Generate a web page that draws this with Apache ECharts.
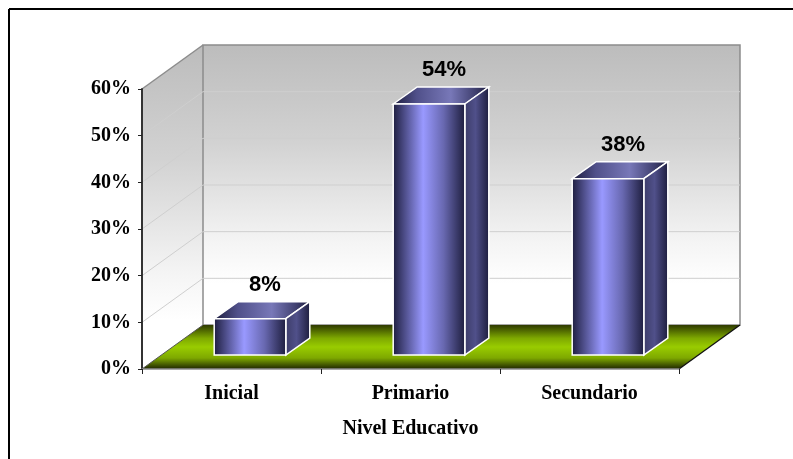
<!DOCTYPE html>
<html><head><meta charset="utf-8">
<style>html,body{margin:0;padding:0;background:#fff}#c{width:793px;height:459px}</style>
<script src="https://cdn.jsdelivr.net/npm/echarts@6/dist/echarts.min.js"></script>
</head><body><div id="c"></div>
<script>
var categories = ['Inicial', 'Primario', 'Secundario'];
var values = [0.08, 0.54, 0.38];
var labels = ['8%', '54%', '38%'];
var yTicks = [0, 0.1, 0.2, 0.3, 0.4, 0.5, 0.6];
var xAxisTitle = 'Nivel Educativo';

var DX = 61, DY = -44;            // room depth
var FX = 18.5, FY = -14;          // bar front face offset
var BX = 24, BY = -17;            // bar depth
var BAR = 0.4;

function pts(a) { return { points: a }; }
function vg(stops) { return { type: 'linear', x: 0, y: 0, x2: 0, y2: 1, colorStops: stops }; }
function hg(stops) { return { type: 'linear', x: 0, y: 0, x2: 1, y2: 0, colorStops: stops }; }
var wallFill = [{offset:0,color:'#bcbcbc'},{offset:0.35,color:'#d2d2d2'},{offset:0.7,color:'#f4f4f4'},{offset:0.85,color:'#ffffff'},{offset:1,color:'#ffffff'}];

function renderRoom(params, api) {
  var x0 = params.coordSys.x, w = params.coordSys.width;
  var yb = api.coord([0, 0])[1], yt = api.coord([0, 0.6])[1];
  var x1 = x0 + w, c = [];
  c.push({type:'polygon', shape:pts([[x0,yb],[x0+DX,yb+DY],[x0+DX,yt+DY],[x0,yt]]),
    style:{fill:vg(wallFill), stroke:null}});
  c.push({type:'rect', shape:{x:x0+DX,y:yt+DY,width:w,height:yb-yt},
    style:{fill:vg(wallFill), stroke:'#8c8c8c', lineWidth:1.5}});
  yTicks.forEach(function (t) {
    if (t === 0 || t === 0.6) return;
    var y = api.coord([0, t])[1];
    c.push({type:'polyline', shape:pts([[x0,y],[x0+DX,y+DY],[x1+DX,y+DY]]),
      style:{fill:null, stroke:'#cfcfcf', lineWidth:1}});
  });
  c.push({type:'line', shape:{x1:x0,y1:yt,x2:x0+DX,y2:yt+DY}, style:{stroke:'#8c8c8c',lineWidth:1.5}});
  c.push({type:'polygon', shape:pts([[x0,yb],[x0+DX,yb+DY],[x1+DX,yb+DY],[x1,yb]]),
    style:{fill:vg([{offset:0,color:'#2e3a00'},{offset:0.3,color:'#7ea800'},{offset:0.5,color:'#99cc00'},{offset:0.75,color:'#7ea800'},{offset:1,color:'#1f2600'}]), stroke:null}});
  c.push({type:'line', shape:{x1:x0,y1:yb,x2:x0+DX,y2:yb+DY}, style:{stroke:'#555',lineWidth:1}});
  c.push({type:'line', shape:{x1:x1,y1:yb,x2:x1+DX,y2:yb+DY}, style:{stroke:'#111',lineWidth:1.3}});
  return {type:'group', children:c};
}

function renderBar(params, api) {
  var i = api.value(0), v = api.value(1);
  var p0 = api.coord([i, 0]), p1 = api.coord([i, v]);
  var bw = api.size([1, 0])[0] * BAR;
  var l = p0[0] - bw / 2 + FX, r = l + bw;
  var b = p0[1] + FY, t = p1[1] + FY + 1;
  var edge = '#ffffff';
  var dark = '#1c1c3c';
  return {type:'group', children:[
    {type:'polygon', shape:pts([[l,t],[l+BX,t+BY],[r+BX,t+BY],[r,t]]),
      style:{fill:hg([{offset:0,color:dark},{offset:0.25,color:'#50508a'},{offset:0.6,color:'#7878b8'},{offset:0.85,color:'#404070'},{offset:1,color:dark}]), stroke:edge, lineWidth:1.5}},
    {type:'polygon', shape:pts([[r,t],[r+BX,t+BY],[r+BX,b+BY],[r,b]]),
      style:{fill:hg([{offset:0,color:'#3c3c68'},{offset:0.45,color:'#50508a'},{offset:1,color:dark}]), stroke:edge, lineWidth:1.5}},
    {type:'rect', shape:{x:l,y:t,width:bw,height:b-t},
      style:{fill:hg([{offset:0,color:dark},{offset:0.42,color:'#9999ff'},{offset:0.7,color:'#6868b0'},{offset:1,color:dark}]), stroke:edge, lineWidth:1.5}},
    {type:'text', style:{text:labels[i], x:(l+r)/2+15, y:t+BY-17, align:'center', verticalAlign:'middle',
      font:'bold 22px "Liberation Sans"', fill:'#000'}}
  ]};
}

var chart = echarts.init(document.getElementById('c'), null, {renderer:'canvas'});
chart.setOption({
  animation:false,
  backgroundColor:'#fff',
  grid:{left:142, top:89, width:537, height:280},
  graphic:[
    {type:'line', shape:{x1:9,y1:9,x2:793,y2:9}, style:{stroke:'#000',lineWidth:2}},
    {type:'line', shape:{x1:9,y1:9,x2:9,y2:459}, style:{stroke:'#000',lineWidth:2}}
  ],
  xAxis:{type:'category', data:categories, name:xAxisTitle, nameLocation:'middle', nameGap:50,
    nameTextStyle:{fontFamily:'Liberation Serif',fontWeight:'bold',fontSize:20,color:'#000'},
    axisTick:{show:true,alignWithLabel:false,length:5,lineStyle:{color:'#222'}},
    axisLine:{lineStyle:{color:'#8c8c8c',width:1.5}},
    axisLabel:{fontFamily:'Liberation Serif',fontWeight:'bold',fontSize:20,color:'#000',margin:15},
    z:10},
  yAxis:{type:'value', min:0, max:0.6, interval:0.1, splitLine:{show:false},
    axisLine:{show:true,lineStyle:{color:'#333',width:2}},
    axisTick:{show:true,length:4,lineStyle:{color:'#222'}},
    axisLabel:{fontFamily:'Liberation Serif',fontWeight:'bold',fontSize:20,color:'#000',margin:11,
      formatter:function(v){return Math.round(v*100)+'%';}},
    z:10},
  series:[
    {type:'custom', renderItem:renderRoom, data:[[0,0]], clip:false, silent:true, z:1},
    {type:'custom', renderItem:renderBar, clip:false, z:5,
      data:values.map(function(v,i){return [i,v];}), encode:{x:0,y:1}}
  ]
});
</script></body></html>
